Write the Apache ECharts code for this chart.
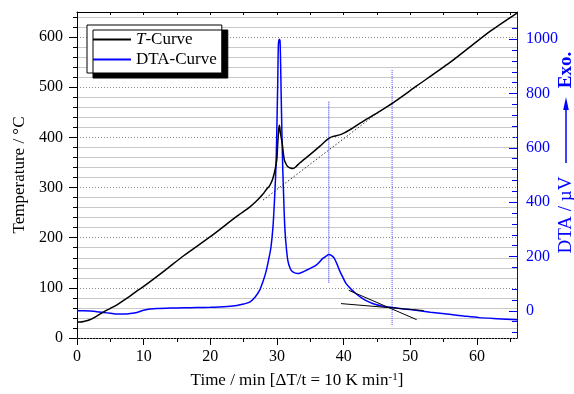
<!DOCTYPE html>
<html>
<head>
<meta charset="utf-8">
<script src="https://cdn.jsdelivr.net/npm/echarts@6/dist/echarts.min.js"></script>
<style>html,body{margin:0;padding:0;background:#fff}#c{width:574px;height:394px}</style>
</head>
<body>
<div id="c"></div>
<script>
// ---- data ----
const tTime = [0,0.5,1,2,3,4,5,6,7,8,9,10,13.2,16,20,24,25.9,27,27.9,28.4,28.9,29.3,29.6,29.85,30,30.1,30.25,30.37,30.5,30.77,31.1,31.4,31.6,32,32.4,32.8,33.4,34.9,36.4,37.3,37.9,38.4,39.4,40.1,40.9,42.9,45.4,47.4,50.9,55.9,58.8,62,66];
const tTemp = [32,32,33,37,44,52,59,66,75,84,94,103,135,164,202,243,261,274,287,296,304,315,329,345,360,385,415,424,410,389,355,346,342,339,338,341,349,365,382,393,399,402,405,409,415,432,452,469,502,549,579,612,648];

const dtaTime = [0,1,2,3,4,5,6,7,8,9,10,11,12,14,16,18,20,22,24,25,25.9,26.7,27.4,28,28.4,28.8,29.1,29.4,29.6,29.8,29.9,30,30.1,30.2,30.32,30.45,30.55,30.62,30.75,30.87,31,31.12,31.3,31.62,32,32.37,33.12,34.37,35.87,36.87,37.4,37.77,38.2,38.6,39,39.37,39.9,40.37,41.1,41.86,42.8,43.86,44.8,45.86,47.36,49,50.86,53,55.85,58,60.3,63,66];
const dtaVal = [0,0,-1,-3,-6,-9,-12,-12,-10,-6,2,7,9,10,11,12,13,15,20,25,32,50,76,115,149,195,235,310,396,500,580,700,826,975,1000,995,900,800,640,518,420,334,260,186,155,143,137,149,168,193,202,207,203,193,172,149,122,100,80,63,46,32,23,17,12,7,2,-5,-13,-19,-25,-29,-33];

const baselineTime = [27.9, 45.4];
const baselineTemp = [275, 452];
const tangent1Time = [40.76, 50.95];
const tangent1Val = [75.6, -32.5];
const tangent2Time = [39.6, 52];
const tangent2Val = [26.6, 1];
const marker1Time = [37.77, 37.77];
const marker1Val = [770, 103];
const marker2Time = [47.27, 47.27];
const marker2Val = [887, -53];

const xMajorTicks = [0,10,20,30,40,50,60];
const xMinorTicks = [5,15,25,35,45,55,65];
const xTopTicks = [5,10,15,20,25,30,35,40,45,50,55,60,65];
const tempMajorTicks = [0,100,200,300,400,500,600];
const tempMinorTicks = [20,40,60,80,120,140,160,180,220,240,260,280,320,340,360,380,420,440,460,480,520,540,560,580,620,640];
const dtaMajorTicks = [0,200,400,600,800,1000];
const dtaMinorTicks = [-80,-40,40,80,120,160,240,280,320,360,440,480,520,560,640,680,720,760,840,880,920,960,1040,1080];

const zip = (a, b) => a.map((v, i) => [v, b[i]]);

const FONT = 'Liberation Serif';
const BLUE = '#0000ff';
const plain = v => String(v);

const chart = echarts.init(document.getElementById('c'), null, {renderer: 'canvas'});
chart.setOption({
  animation: false,
  backgroundColor: '#fff',
  grid: {left: 77, right: 57, top: 12, bottom: 56, containLabel: false},
  legend: {
    orient: 'vertical', left: 87, top: 25,
    padding: [6, 5, 5, 5], itemGap: 3, itemWidth: 38, itemHeight: 14,
    backgroundColor: '#fff', borderColor: '#000', borderWidth: 1,
    shadowColor: '#000', shadowBlur: 0, shadowOffsetX: 6, shadowOffsetY: 5,
    data: ['T-Curve', 'DTA-Curve'],
    itemStyle: {opacity: 0},
    lineStyle: {opacity: 1},
    formatter: n => n === 'T-Curve' ? '{it|T}-Curve' : n,
    textStyle: {fontFamily: FONT, fontSize: 17, color: '#000',
      rich: {it: {fontFamily: FONT, fontSize: 17, fontStyle: 'italic', color: '#000'}}}
  },
  xAxis: [
    {type: 'value', position: 'bottom', min: 0, max: 66, interval: 10,
     name: 'Time / min [ΔT/t = 10 K min{sup|-1}]', nameLocation: 'middle', nameGap: 34,
     nameTextStyle: {fontFamily: FONT, fontSize: 17, color: '#000',
       rich: {sup: {fontFamily: FONT, fontSize: 11, color: '#000', verticalAlign: 'top'}}},
     axisLine: {show: true, onZero: false, lineStyle: {color: '#000', width: 1}},
     axisTick: {show: true, inside: false, length: 7, customValues: xMajorTicks, lineStyle: {color: '#000'}},
     axisLabel: {show: true, customValues: xMajorTicks, formatter: plain, margin: 11, fontFamily: FONT, fontSize: 16, color: '#000'},
     splitLine: {show: false}},
    {type: 'value', position: 'bottom', min: 0, max: 66,
     axisLine: {show: false, onZero: false},
     axisTick: {show: true, inside: false, length: 4, customValues: xMinorTicks, lineStyle: {color: '#000'}},
     axisLabel: {show: false}, splitLine: {show: false}},
    {type: 'value', position: 'top', min: 0, max: 66,
     axisLine: {show: true, onZero: false, lineStyle: {color: '#000', width: 1}},
     axisTick: {show: true, inside: true, length: 3, customValues: xTopTicks, lineStyle: {color: '#000'}},
     axisLabel: {show: false}, splitLine: {show: false}}
  ],
  yAxis: [
    {type: 'value', position: 'left', min: 0, max: 650, interval: 100, z: 3,
     name: 'Temperature / °C', nameLocation: 'middle', nameGap: 43,
     nameTextStyle: {fontFamily: FONT, fontSize: 17, color: '#000'},
     axisLine: {show: true, onZero: false, lineStyle: {color: '#000', width: 1}},
     axisTick: {show: true, inside: false, length: 8, customValues: tempMajorTicks, lineStyle: {color: '#000'}},
     axisLabel: {show: true, customValues: tempMajorTicks, formatter: plain, margin: 14, fontFamily: FONT, fontSize: 16, color: '#000'},
     splitLine: {show: true, lineStyle: {color: '#8a8a8a', type: [1, 2], width: 1}}},
    {type: 'value', position: 'left', min: 0, max: 650, interval: 20, z: 1,
     axisLine: {show: false, onZero: false},
     axisTick: {show: true, inside: false, length: 4, customValues: tempMinorTicks, lineStyle: {color: '#000'}},
     axisLabel: {show: false},
     splitLine: {show: true, lineStyle: {color: '#c8c8c8', type: 'solid', width: 1}}},
    {type: 'value', position: 'right', min: -100, max: 1100,
     axisLine: {show: true, onZero: false, lineStyle: {color: BLUE, width: 1}},
     axisTick: {show: true, inside: true, length: 8, customValues: dtaMajorTicks, lineStyle: {color: BLUE}},
     axisLabel: {show: true, customValues: dtaMajorTicks, formatter: plain, margin: 9, fontFamily: FONT, fontSize: 16, color: BLUE},
     splitLine: {show: false}},
    {type: 'value', position: 'right', min: -100, max: 1100,
     axisLine: {show: false, onZero: false},
     axisTick: {show: true, inside: true, length: 5, customValues: dtaMinorTicks, lineStyle: {color: BLUE}},
     axisLabel: {show: false}, splitLine: {show: false}}
  ],
  graphic: [
    {type: 'group', x: 566, y: 258, rotation: Math.PI / 2, children: [
      {type: 'text', x: 43, y: 0, style: {text: 'DTA / µV', fontFamily: FONT, fontSize: 19, fill: BLUE, align: 'center', verticalAlign: 'middle'}},
      {type: 'line', shape: {x1: 95, y1: 0, x2: 150, y2: 0}, style: {stroke: BLUE, lineWidth: 1.5}},
      {type: 'polygon', shape: {points: [[148, -2.8], [161, 0], [148, 2.8]]}, style: {fill: BLUE}},
      {type: 'text', x: 188, y: 0, style: {text: 'Exo.', fontFamily: FONT, fontSize: 19, fontWeight: 'bold', fill: BLUE, align: 'center', verticalAlign: 'middle'}}
    ]}
  ],
  series: [
    {name: 'T-Curve', type: 'line', xAxisIndex: 0, yAxisIndex: 0, data: zip(tTime, tTemp),
     symbol: 'none', smooth: 0.25, lineStyle: {color: '#000', width: 1.5}, itemStyle: {color: '#000'}, z: 5},
    {name: 'DTA-Curve', type: 'line', xAxisIndex: 0, yAxisIndex: 2, data: zip(dtaTime, dtaVal),
     symbol: 'none', smooth: 0.25, lineStyle: {color: BLUE, width: 1.5}, itemStyle: {color: BLUE}, z: 4},
    {name: 'baseline', type: 'line', xAxisIndex: 0, yAxisIndex: 0, data: zip(baselineTime, baselineTemp),
     symbol: 'none', lineStyle: {color: '#333', width: 1, type: [1.5, 2]}, z: 3},
    {name: 'tangent1', type: 'line', xAxisIndex: 0, yAxisIndex: 2, data: zip(tangent1Time, tangent1Val),
     symbol: 'none', lineStyle: {color: '#000', width: 1}, z: 6},
    {name: 'tangent2', type: 'line', xAxisIndex: 0, yAxisIndex: 2, data: zip(tangent2Time, tangent2Val),
     symbol: 'none', lineStyle: {color: '#000', width: 1}, z: 6},
    {name: 'marker1', type: 'line', xAxisIndex: 0, yAxisIndex: 2, data: zip(marker1Time, marker1Val),
     symbol: 'none', lineStyle: {color: '#1a1aff', width: 1, type: [1, 1]}, z: 3},
    {name: 'marker2', type: 'line', xAxisIndex: 0, yAxisIndex: 2, data: zip(marker2Time, marker2Val),
     symbol: 'none', lineStyle: {color: '#6a6aff', width: 1.3, type: [1, 1]}, z: 3}
  ]
});
</script>
</body>
</html>
